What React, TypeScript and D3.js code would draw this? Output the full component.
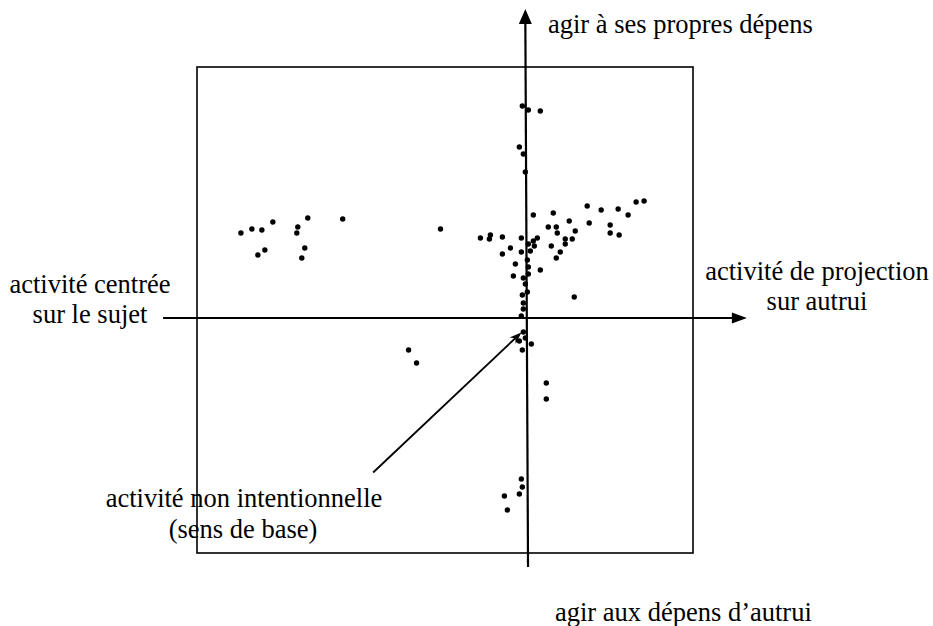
import * as d3 from "d3"

// Coordinates are in the chart's own units: x = projection (right) vs subject (left),
// y = at one's own expense (up) vs at the expense of others (down). Origin = axis crossing.
type Pt = [number, number]

const subjectCluster: Pt[] = [
  [-28.6, 8.5], [-27.5, 8.9], [-26.5, 8.8], [-25.4, 9.6], [-26.9, 6.3], [-26.2, 6.8],
  [-22.9, 9.1], [-23.0, 8.5], [-21.9, 10.0], [-22.2, 7.0], [-22.5, 6.0], [-18.4, 9.9],
  [-8.6, 8.9],
]

const ownExpensePoints: Pt[] = [
  [-0.4, 21.2], [0.2, 20.8], [1.4, 20.7], [-0.7, 17.1], [-0.3, 16.4], [-0.1, 14.6],
]

const projectionCluster: Pt[] = [
  [0.7, 10.3], [2.7, 10.5], [6.1, 11.2], [7.5, 10.8], [9.2, 10.9], [11.0, 11.6],
  [11.8, 11.7], [10.2, 10.3], [4.3, 9.7], [6.3, 9.5], [8.4, 9.3], [8.4, 8.5],
  [9.3, 8.3], [2.2, 9.1], [3.0, 9.1], [3.1, 8.5], [4.9, 8.7], [3.9, 7.9],
  [4.6, 7.9], [3.9, 7.4], [2.5, 7.2], [3.4, 6.6], [3.0, 6.0], [1.1, 8.0],
  [0.7, 7.7], [0.8, 7.2], [0.2, 7.4], [0.4, 6.7], [-0.5, 8.0], [-0.5, 6.6],
  [-1.6, 7.0], [-2.4, 8.1], [-2.4, 6.4], [-3.6, 8.3], [-3.7, 7.9], [-4.6, 8.0],
  [-1.1, 5.4], [-1.3, 4.2], [0.1, 5.8], [0.2, 5.1], [0.2, 4.4], [1.4, 4.8],
  [-0.3, 4.0], [-0.1, 3.4], [0.1, 2.6], [-0.4, 2.3], [-0.3, 1.5], [-0.3, 0.9],
  [-0.5, 0.2], [4.8, 2.1],
]

const othersExpensePoints: Pt[] = [
  [-0.3, -1.4], [-0.1, -2.0], [-0.7, -2.3], [0.5, -2.6], [-0.4, -3.2],
  [-11.8, -3.2], [-11.0, -4.5], [2.0, -6.5], [2.0, -8.1],
  [-0.5, -16.1], [-0.4, -16.9], [-0.7, -17.6], [-2.2, -17.8], [-1.9, -19.2],
]

// frame and axes extents (chart units)
const frameX: [number, number] = [-33, 16.7]
const frameY: [number, number] = [-23.5, 25.1]
const hAxisX: [number, number] = [-36.4, 22.1]
const vAxisY: [number, number] = [-24.9, 30.9]
const annotationFrom: Pt = [-15.35, -15.45]
const annotationTo: Pt = [-0.5, -1.45]

const topLabel = "agir à ses propres dépens"
const bottomLabel = "agir aux dépens d\u2019autrui"
const leftLabel = ["activité centrée", "sur le sujet"]
const rightLabel = ["activité de projection", "sur autrui"]
const noteLabel = ["activité non intentionnelle", "(sens de base)"]

const W = 933
const H = 626

export default function App() {
  const x = d3.scaleLinear().domain(frameX).range([197, 693])
  const y = d3.scaleLinear().domain(frameY).range([553, 67])

  const allPoints = [...subjectCluster, ...ownExpensePoints, ...projectionCluster, ...othersExpensePoints]

  const textStyle = { fontFamily: "\"Liberation Serif\"", fontSize: "26.5px" }

  // axis geometry
  const hy = y(0)
  const hx0 = x(hAxisX[0])
  const hx1 = x(hAxisX[1])
  const vTop = y(vAxisY[1])
  const vBot = y(vAxisY[0])
  const vxTop = x(-0.1)
  const vxBot = x(0.17)

  // annotation arrow
  const ax0 = x(annotationFrom[0]), ay0 = y(annotationFrom[1])
  const ax1 = x(annotationTo[0]), ay1 = y(annotationTo[1])
  const ang = Math.atan2(ay1 - ay0, ax1 - ax0)
  const headLen = 12
  const headW = 4.5
  const bx = ax1 - headLen * Math.cos(ang)
  const by = ay1 - headLen * Math.sin(ang)
  const nx = -Math.sin(ang), ny = Math.cos(ang)
  const notchX = ax1 - headLen * 0.7 * Math.cos(ang)
  const notchY = ay1 - headLen * 0.7 * Math.sin(ang)
  const noteHead = `M${ax1},${ay1}L${bx + nx * headW},${by + ny * headW}L${notchX},${notchY}L${bx - nx * headW},${by - ny * headW}Z`

  return (
    <svg width={W} height={H} style={{ position: "absolute", left: 0, top: 0, background: "#fff" }}>
      <rect x={x(frameX[0])} y={y(frameY[1])} width={x(frameX[1]) - x(frameX[0])} height={y(frameY[0]) - y(frameY[1])}
        fill="none" stroke="#000" strokeWidth={1.6} />

      {/* horizontal axis */}
      <line x1={hx0} y1={hy} x2={hx1 - 12} y2={hy} stroke="#000" strokeWidth={2.2} />
      <path d={`M${hx1},${hy}L${hx1 - 15},${hy - 5.5}L${hx1 - 15},${hy + 5.5}Z`} fill="#000" />

      {/* vertical axis */}
      <line x1={vxTop} y1={vTop + 12} x2={vxBot} y2={vBot} stroke="#000" strokeWidth={2.2} />
      <path d={`M${vxTop},${vTop}L${vxTop - 6.5},${vTop + 15}L${vxTop + 6.5},${vTop + 15}Z`} fill="#000" />

      {/* points */}
      {allPoints.map((d, i) => (
        <circle key={i} cx={x(d[0])} cy={y(d[1])} r={2.7} fill="#000" />
      ))}

      {/* annotation arrow */}
      <line x1={ax0} y1={ay0} x2={notchX} y2={notchY} stroke="#000" strokeWidth={1.8} />
      <path d={noteHead} fill="#000" />

      <g fill="#000">
        <text x={548} y={33} style={textStyle}>{topLabel}</text>
        <text x={555} y={621} style={textStyle}>{bottomLabel}</text>
        <text textAnchor="middle" style={textStyle}>
          <tspan x={90} y={293}>{leftLabel[0]}</tspan>
          <tspan x={90} y={323}>{leftLabel[1]}</tspan>
        </text>
        <text textAnchor="middle" style={textStyle}>
          <tspan x={817} y={280}>{rightLabel[0]}</tspan>
          <tspan x={817} y={310}>{rightLabel[1]}</tspan>
        </text>
        <text textAnchor="middle" style={textStyle}>
          <tspan x={244} y={507}>{noteLabel[0]}</tspan>
          <tspan x={243} y={538}>{noteLabel[1]}</tspan>
        </text>
      </g>
    </svg>
  )
}
